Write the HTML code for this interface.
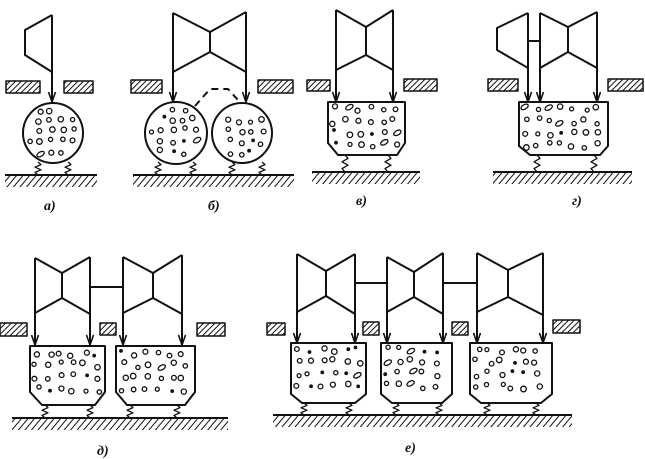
<!DOCTYPE html>
<html><head><meta charset="utf-8"><style>
html,body{margin:0;padding:0;background:#fff}
svg{display:block}
text{font-family:"Liberation Serif",serif;font-style:italic;font-weight:bold;font-size:14px;fill:#111}
</style></head><body>
<svg id="s" width="645" height="459" viewBox="0 0 645 459" xmlns="http://www.w3.org/2000/svg">
<defs>
<pattern id="h" width="4" height="4" patternUnits="userSpaceOnUse" patternTransform="rotate(45)">
<rect width="4" height="4" fill="#fff"/><line x1="0" y1="0" x2="0" y2="4" stroke="#111" stroke-width="2"/>
</pattern>
<pattern id="g" width="5" height="5" patternUnits="userSpaceOnUse" patternTransform="rotate(40)">
<line x1="0" y1="0" x2="0" y2="5" stroke="#111" stroke-width="2"/>
</pattern>
</defs>
<g id="m" fill="none" stroke="#111" stroke-width="2" stroke-linejoin="round"></g>
<text x="44" y="210">а)</text>
<text x="208" y="210">б)</text>
<text x="356" y="205">в)</text>
<text x="572" y="205">г)</text>
<text x="97" y="455">д)</text>
<text x="405" y="452">е)</text>
</svg>
<script>
var m=document.getElementById('m'),o='';
function P(d,ex){o+='<path d="'+d+'" '+(ex||'')+'/>';}
function arrow(x,y1,y2){P('M'+x+','+y1+' V'+y2);P('M'+(x-3.5)+','+(y2-10)+' L'+x+','+y2+' L'+(x+3.5)+','+(y2-10),'stroke-width="1.6"');}
function hb(x1,y1,x2,y2){o+='<rect x="'+x1+'" y="'+y1+'" width="'+(x2-x1)+'" height="'+(y2-y1)+'" fill="url(#h)" stroke-width="1.5"/>';}
function ground(x1,x2,y){o+='<rect x="'+x1+'" y="'+(y+1)+'" width="'+(x2-x1)+'" height="11" fill="url(#g)" stroke="none"/>';P('M'+x1+','+y+'H'+x2);}
function spring(x,y1,y2){var d='M'+x+','+y1,n=4,h=(y2-y1)/(n+1);for(var i=1;i<=n;i++)d+=' L'+(x+(i%2?3:-3))+','+(y1+h*i);d+=' L'+x+','+y2;P(d,'stroke-width="1.3"');}
function turb(l,r,c,t1,t2,cy1,cy2,b1,b2,ay){P('M'+l+','+t1+' L'+c+','+cy1+' L'+r+','+t2+' M'+l+','+b1+' L'+c+','+cy2+' L'+r+','+b2+' M'+c+','+cy1+' V'+cy2);arrow(l,t1,ay);arrow(r,t2,ay);}
var seed=12345;function R(){seed=(seed*1103515245+12345)%2147483648;return seed/2147483648;}
function dot(x,y){var t=R();x=x.toFixed(1);y=y.toFixed(1);
if(t<0.1)o+='<ellipse cx="'+x+'" cy="'+y+'" rx="4" ry="2.2" transform="rotate(-30 '+x+' '+y+')" stroke-width="1.3"/>';
else if(t<0.25)o+='<circle cx="'+x+'" cy="'+y+'" r="1.4" fill="#111" stroke-width="1"/>';
else o+='<circle cx="'+x+'" cy="'+y+'" r="'+(2+R()*0.8).toFixed(1)+'" stroke-width="1.3"/>';}
function dots(test,x1,y1,x2,y2,sp){for(var y=y1;y<=y2;y+=sp)for(var x=x1;x<=x2;x+=sp){var px=x+(R()-0.5)*sp*0.5,py=y+(R()-0.5)*sp*0.5;if(test(px,py))dot(px,py);}}
function block(x1,x2,top,side,bot,cx1,cx2){P('M'+x1+','+top+' H'+x2+' V'+side+' L'+cx2+','+bot+' H'+cx1+' L'+x1+','+side+' Z');
dots(function(x,y){return y<side+4&&x>x1+3&&x<x2-3},x1+7,top+7,x2-6,side+2,12);}
function circ(cx,cy,r){o+='<circle cx="'+cx+'" cy="'+cy+'" r="'+r+'"/>';dots(function(x,y){return (x-cx)*(x-cx)+(y-cy)*(y-cy)<(r-5)*(r-5)},cx-r+6,cy-r+6,cx+r,cy+r,11);}
// a
P('M52,15 L25,30 V55 L52,72');arrow(52,15,102);hb(6,81,40,93);hb(64,81,93,93);circ(53,133,30);spring(38,162,175);spring(68,162,175);ground(5,97,175);
// b
turb(173,246,210,13,12,32,52,72,72,102);hb(131,80,162,93);hb(258,80,293,93);
circ(176,133,31);circ(242,133,30);P('M195,106 L210,89 H228 L238,100','stroke-dasharray="7,5"');
spring(158,162,175);spring(193,162,175);spring(232,162,175);spring(262,162,175);ground(133,294,175);
// c
turb(336,393,366,10,10,27,55,70,70,102);hb(307,80,330,91);hb(404,79,437,91);block(328,405,102,143,155,338,397);
spring(345,155,172);spring(388,155,172);ground(312,420,172);
// d (г)
P('M528,13 L497,28 V50 L528,68');arrow(528,13,102);P('M528,41 H540');
turb(540,597,568,13,12,27,52,68,68,102);hb(488,79,518,91);hb(608,79,643,91);block(519,608,102,146,155,530,600);
spring(537,155,172);spring(594,155,172);ground(493,632,172);
// д
turb(35,90,62,258,257,273,298,313,314,345);turb(123,182,153,257,255,273,298,313,314,345);P('M90,287 H123');
hb(0,323,27,336);hb(100,323,116,335);hb(197,323,225,336);
block(30,105,346,392,405,42,95);block(116,195,346,392,405,127,185);
spring(45,405,418);spring(90,405,418);spring(130,405,418);spring(177,405,418);ground(12,228,418);
// е
turb(297,355,326,254,254,271,296,312,314,343);turb(387,443,414,257,253,272,297,312,314,343);turb(477,543,508,253,253,270,297,312,315,343);
P('M355,283 H387 M443,283 H477');
hb(267,323,285,335);hb(363,322,379,335);hb(452,322,468,335);hb(553,320,580,333);
block(291,366,343,394,403,302,355);block(381,452,343,394,403,392,442);block(470,552,343,394,403,481,541);
[304,349,396,439,487,536].forEach(function(x){spring(x,403,415);});ground(273,572,415);
m.innerHTML=o;
</script>
</body></html>
